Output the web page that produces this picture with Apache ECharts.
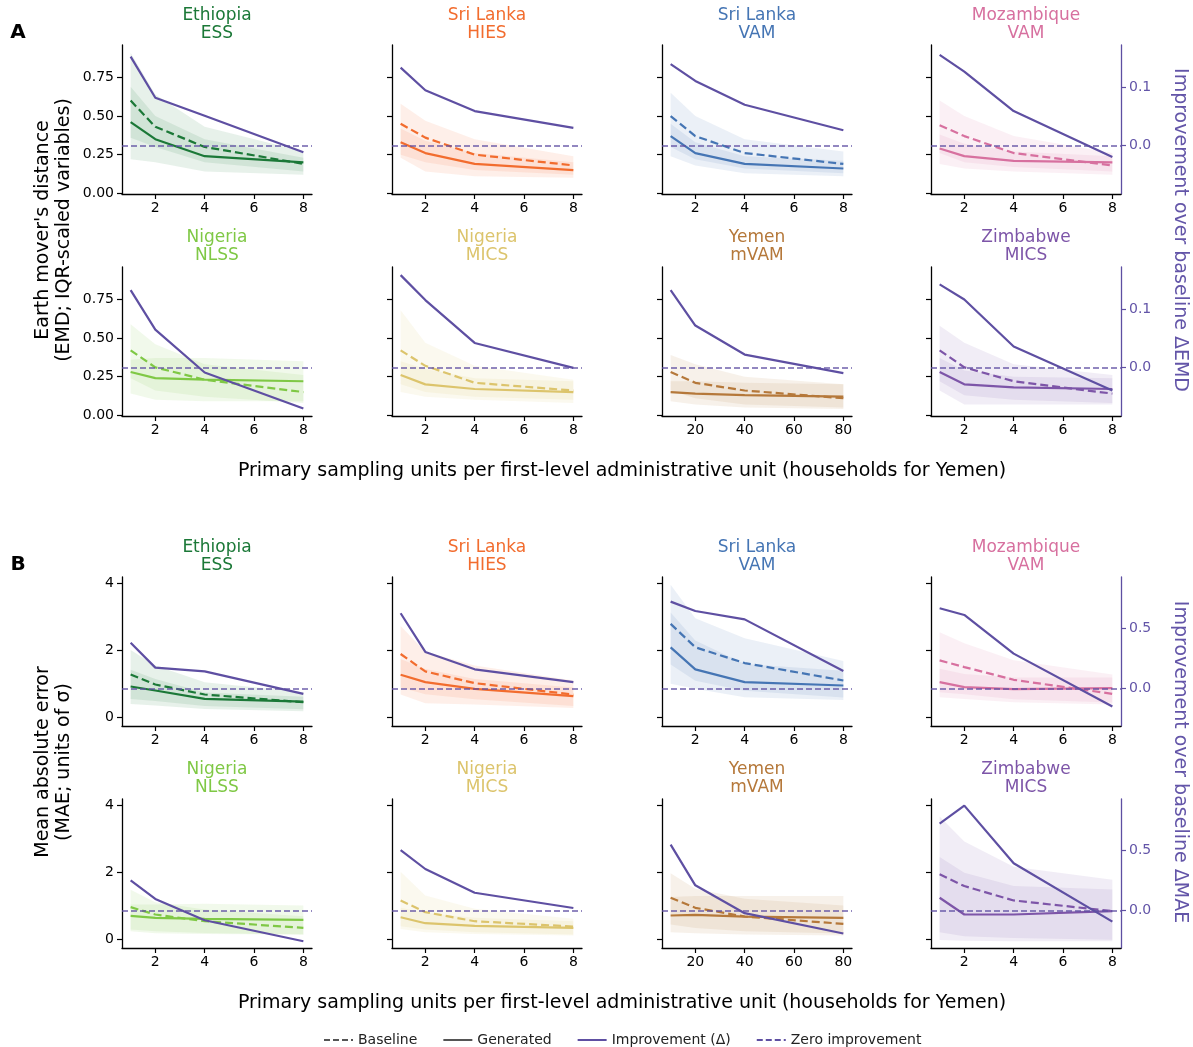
<!DOCTYPE html>
<html><head><meta charset="utf-8">
<script src="https://cdn.jsdelivr.net/npm/echarts@6/dist/echarts.min.js"></script>
<style>html,body{margin:0;padding:0;background:#fff}#c{width:1193px;height:1047px}</style>
</head><body><div id="c"></div>
<script>
// ---------- DATA ----------
const panelCountries = ['Ethiopia','Sri Lanka','Sri Lanka','Mozambique','Nigeria','Nigeria','Yemen','Zimbabwe'];
const panelSurveys   = ['ESS','HIES','VAM','VAM','NLSS','MICS','mVAM','MICS'];
const xSteps      = [1, 2, 4, 8];
const xStepsYemen = [10, 20, 40, 80];
const xTicks      = [2, 4, 6, 8];
const xTicksYemen = [20, 40, 60, 80];
const emdTicks    = [0, 0.25, 0.5, 0.75];
const emdImpTicks = [0, 0.1];
const maeTicks    = [0, 2, 4];
const maeImpTicks = [0, 0.5];

// Panel A: Earth mover's distance
const emdBaseline = [
  [0.60,0.43,0.30,0.19],[0.45,0.36,0.25,0.18],[0.50,0.37,0.26,0.19],[0.44,0.37,0.26,0.18],
  [0.42,0.31,0.23,0.15],[0.42,0.32,0.21,0.16],[0.28,0.21,0.16,0.11],[0.42,0.31,0.22,0.14]];
const emdGenerated = [
  [0.46,0.35,0.24,0.20],[0.33,0.26,0.19,0.15],[0.37,0.26,0.19,0.16],[0.29,0.24,0.21,0.20],
  [0.28,0.24,0.23,0.22],[0.26,0.20,0.17,0.15],[0.15,0.14,0.13,0.12],[0.28,0.20,0.18,0.17]];
const emdImprovement = [
  [0.153,0.082,0.051,-0.012],[0.134,0.095,0.059,0.030],[0.140,0.111,0.070,0.026],[0.156,0.127,0.059,-0.020],
  [0.133,0.065,-0.009,-0.071],[0.159,0.116,0.042,-0.001],[0.133,0.072,0.022,-0.010],[0.143,0.117,0.036,-0.040]];
const emdBaseHi = [
  [0.91,0.64,0.43,0.27],[0.58,0.47,0.35,0.24],[0.65,0.50,0.35,0.27],[0.60,0.50,0.37,0.26],
  [0.59,0.46,0.33,0.26],[0.68,0.47,0.32,0.23],[0.39,0.33,0.25,0.20],[0.58,0.47,0.33,0.26]];
const emdBaseLo = [
  [0.36,0.30,0.20,0.14],[0.25,0.20,0.15,0.12],[0.30,0.22,0.16,0.13],[0.26,0.20,0.17,0.14],
  [0.24,0.16,0.12,0.08],[0.20,0.15,0.12,0.10],[0.16,0.11,0.07,0.05],[0.22,0.13,0.10,0.08]];
const emdGenHi = [
  [0.69,0.50,0.35,0.23],[0.42,0.34,0.26,0.20],[0.45,0.33,0.24,0.21],[0.38,0.32,0.27,0.24],
  [0.36,0.37,0.37,0.35],[0.35,0.30,0.24,0.22],[0.22,0.22,0.21,0.20],[0.37,0.29,0.25,0.24]];
const emdGenLo = [
  [0.22,0.20,0.14,0.12],[0.23,0.14,0.11,0.10],[0.24,0.18,0.13,0.11],[0.19,0.16,0.14,0.12],
  [0.14,0.10,0.09,0.09],[0.15,0.12,0.10,0.08],[0.09,0.07,0.05,0.04],[0.16,0.07,0.07,0.07]];

// Panel B: Mean absolute error
const maeBaseline = [
  [1.29,0.99,0.69,0.46],[1.90,1.38,1.03,0.69],[2.80,2.10,1.63,1.11],[1.71,1.51,1.13,0.71],
  [0.97,0.75,0.55,0.35],[1.17,0.82,0.55,0.39],[1.25,0.95,0.69,0.47],[1.95,1.60,1.17,0.85]];
const maeGenerated = [
  [0.93,0.81,0.56,0.48],[1.28,1.06,0.86,0.64],[2.10,1.44,1.06,0.96],[1.06,0.91,0.85,0.88],
  [0.71,0.65,0.62,0.59],[0.67,0.49,0.41,0.35],[0.72,0.74,0.69,0.65],[1.25,0.75,0.75,0.85]];
const maeImprovement = [
  [0.380,0.173,0.142,-0.045],[0.626,0.304,0.159,0.053],[0.723,0.645,0.575,0.145],[0.668,0.612,0.290,-0.151],
  [0.251,0.096,-0.082,-0.257],[0.503,0.345,0.147,0.020],[0.548,0.209,-0.023,-0.192],[0.723,0.873,0.393,-0.093]];
const maeBaseHi = [
  [2.02,1.56,1.06,0.76],[2.74,1.97,1.56,1.11],[3.97,2.97,2.37,1.69],[2.55,2.22,1.71,1.29],
  [1.49,1.12,0.90,0.70],[2.03,1.32,0.92,0.62],[1.98,1.52,1.22,1.02],[3.68,2.93,2.18,1.79]];
const maeBaseLo = [
  [0.56,0.50,0.35,0.25],[0.90,0.70,0.55,0.35],[1.59,1.10,0.80,0.60],[0.76,0.70,0.55,0.45],
  [0.30,0.25,0.20,0.15],[0.40,0.30,0.22,0.15],[0.45,0.35,0.25,0.18],[0.22,0.10,0.05,0.00]];
const maeGenHi = [
  [1.43,1.15,0.75,0.62],[1.75,1.45,1.15,0.90],[3.14,2.30,1.60,1.40],[1.46,1.30,1.20,1.20],
  [1.05,1.05,1.07,1.02],[0.95,0.80,0.65,0.55],[1.27,1.30,1.30,1.30],[2.47,2.00,1.60,1.50]];
const maeGenLo = [
  [0.41,0.36,0.26,0.19],[0.69,0.43,0.39,0.29],[1.01,0.86,0.61,0.53],[0.61,0.56,0.46,0.39],
  [0.25,0.19,0.17,0.15],[0.32,0.22,0.17,0.12],[0.22,0.19,0.15,0.12],[-0.01,-0.03,-0.05,-0.05]];

// ---------- STYLE / LAYOUT ----------
const FONT = 'DejaVu Sans';
const IMP = '#5e4fa2';
const IMP_TEXT = '#6355a8';
const panelColors = ['#1b7837','#f26c2e','#4575b4','#d7709f','#7fc845','#dcc46c','#b5783a','#7d55a8'];
const colLeft = [122, 392, 662, 931];
const panelW = 190, panelH = 149;

function rgba(hex, a) {
  const n = parseInt(hex.slice(1), 16);
  return 'rgba(' + ((n >> 16) & 255) + ',' + ((n >> 8) & 255) + ',' + (n & 255) + ',' + a + ')';
}

const grids = [], xAxes = [], yAxes = [], series = [], graphics = [];

const sections = [
  { rowTop: [45, 267], yMin: -0.005, yMax: 0.96, impMin: -0.084, impMax: 0.173,
    ticks: emdTicks, impTicks: emdImpTicks, fmt: v => v.toFixed(2), impFmt: v => v.toFixed(1),
    base: emdBaseline, gen: emdGenerated, imp: emdImprovement,
    bHi: emdBaseHi, bLo: emdBaseLo, gHi: emdGenHi, gLo: emdGenLo },
  { rowTop: [577, 799], yMin: -0.25, yMax: 4.2, impMin: -0.313, impMax: 0.928,
    ticks: maeTicks, impTicks: maeImpTicks, fmt: v => String(Math.round(v)), impFmt: v => v.toFixed(1),
    base: maeBaseline, gen: maeGenerated, imp: maeImprovement,
    bHi: maeBaseHi, bLo: maeBaseLo, gHi: maeGenHi, gLo: maeGenLo }
];

sections.forEach((S) => {
  for (let p = 0; p < 8; p++) {
    const row = Math.floor(p / 4), col = p % 4;
    const g = grids.length;
    const left = colLeft[col], top = S.rowTop[row];
    const color = panelColors[p];
    const isYemen = p === 6;
    const xs = isYemen ? xStepsYemen : xSteps;
    grids.push({ left: left, top: top, width: panelW, height: panelH, containLabel: false });
    xAxes.push({
      gridIndex: g, type: 'value',
      min: isYemen ? 6.5 : 0.65, max: isYemen ? 83.5 : 8.35,
      axisLine: { show: true, onZero: false, lineStyle: { color: '#000', width: 1.3 } },
      axisTick: { show: true, length: 5, lineStyle: { color: '#000', width: 1.2 }, customValues: isYemen ? xTicksYemen : xTicks },
      axisLabel: { color: '#000', fontSize: 14, fontFamily: FONT, margin: 7, customValues: isYemen ? xTicksYemen : xTicks },
      splitLine: { show: false }
    });
    yAxes.push({
      gridIndex: g, type: 'value', position: 'left', min: S.yMin, max: S.yMax,
      axisLine: { show: true, onZero: false, lineStyle: { color: '#000', width: 1.3 } },
      axisTick: { show: true, length: 5, lineStyle: { color: '#000', width: 1.2 }, customValues: S.ticks },
      axisLabel: { show: col === 0, color: '#000', fontSize: 14, fontFamily: FONT, margin: 8, customValues: S.ticks, formatter: S.fmt },
      splitLine: { show: false }
    });
    yAxes.push({
      gridIndex: g, type: 'value', position: 'right', min: S.impMin, max: S.impMax, show: col === 3,
      axisLine: { show: true, onZero: false, lineStyle: { color: IMP, width: 1.3 } },
      axisTick: { show: true, length: 5, lineStyle: { color: IMP, width: 1.2 }, customValues: S.impTicks },
      axisLabel: { color: IMP_TEXT, fontSize: 14, fontFamily: FONT, margin: 8, customValues: S.impTicks, formatter: S.impFmt },
      splitLine: { show: false }
    });
    const yL = 2 * g, yR = 2 * g + 1;
    // bands (baseline band, generated band) drawn through the axis scales
    [[S.bLo[p], S.bHi[p]], [S.gLo[p], S.gHi[p]]].forEach((band) => {
      const bandData = xs.map((x, i) => [x, band[0][i], band[1][i]]);
      const fill = rgba(color, 0.105);
      series.push({ type: 'custom', xAxisIndex: g, yAxisIndex: yL, silent: true, z: 1, clip: true,
        encode: { x: 0, y: [1, 2] }, data: bandData,
        renderItem: function (params, api) {
          if (params.dataIndex !== 0) return null;
          const upper = bandData.map(d => api.coord([d[0], d[2]]));
          const lower = bandData.map(d => api.coord([d[0], d[1]])).reverse();
          return { type: 'polygon', shape: { points: upper.concat(lower) }, style: { fill: fill }, silent: true };
        } });
    });
    series.push({ type: 'line', xAxisIndex: g, yAxisIndex: yL, data: xs.map((x, i) => [x, S.base[p][i]]),
      symbol: 'none', silent: true, lineStyle: { color: color, width: 2.2, type: [8, 4] }, z: 3 });
    series.push({ type: 'line', xAxisIndex: g, yAxisIndex: yL, data: xs.map((x, i) => [x, S.gen[p][i]]),
      symbol: 'none', silent: true, lineStyle: { color: color, width: 2.2 }, z: 3 });
    series.push({ type: 'line', xAxisIndex: g, yAxisIndex: yR, data: xs.map((x, i) => [x, S.imp[p][i]]),
      symbol: 'none', silent: true, lineStyle: { color: IMP, width: 2.2 }, z: 4,
      markLine: { silent: true, symbol: 'none', label: { show: false },
        lineStyle: { color: IMP, width: 1.6, type: [6, 3], opacity: 0.9 }, data: [{ yAxis: 0 }] } });
    // titles
    const cx = left + panelW / 2;
    graphics.push({ type: 'text', x: cx, y: top - 29, silent: true,
      style: { text: panelCountries[p], fill: color, fontSize: 17, fontFamily: FONT, align: 'center', verticalAlign: 'middle' } });
    graphics.push({ type: 'text', x: cx, y: top - 11, silent: true,
      style: { text: panelSurveys[p], fill: color, fontSize: 17, fontFamily: FONT, align: 'center', verticalAlign: 'middle' } });
  }
});

// legend helper series
const legendSeries = [
  { name: 'Baseline', color: '#555', type: [6, 3], width: 1.6 },
  { name: 'Generated', color: '#555', type: 'solid', width: 1.6 },
  { name: 'Improvement (Δ)', color: IMP, type: 'solid', width: 1.6 },
  { name: 'Zero improvement', color: IMP, type: [6, 3], width: 1.6 }
];
legendSeries.forEach(l => series.push({ name: l.name, type: 'line', xAxisIndex: 0, yAxisIndex: 0, data: [],
  symbol: 'none', color: l.color, lineStyle: { color: l.color, type: l.type, width: l.width } }));

const textCommon = { fontFamily: FONT, fill: '#000', align: 'center', verticalAlign: 'middle' };
const xLabel = 'Primary sampling units per first-level administrative unit (households for Yemen)';
graphics.push(
  { type: 'text', x: 18, y: 33, style: Object.assign({}, textCommon, { text: 'A', fontSize: 20, fontWeight: 'bold' }) },
  { type: 'text', x: 18, y: 565, style: Object.assign({}, textCommon, { text: 'B', fontSize: 20, fontWeight: 'bold' }) },
  { type: 'text', x: 622, y: 471, style: Object.assign({}, textCommon, { text: xLabel, fontSize: 19 }) },
  { type: 'text', x: 622, y: 1003, style: Object.assign({}, textCommon, { text: xLabel, fontSize: 19 }) },
  { type: 'text', x: 43, y: 230, rotation: Math.PI / 2, style: Object.assign({}, textCommon, { text: "Earth mover's distance", fontSize: 19 }) },
  { type: 'text', x: 64, y: 230, rotation: Math.PI / 2, style: Object.assign({}, textCommon, { text: '(EMD; IQR-scaled variables)', fontSize: 19 }) },
  { type: 'text', x: 43, y: 762, rotation: Math.PI / 2, style: Object.assign({}, textCommon, { text: 'Mean absolute error', fontSize: 19 }) },
  { type: 'text', x: 64, y: 762, rotation: Math.PI / 2, style: Object.assign({}, textCommon, { text: '(MAE; units of σ)', fontSize: 19 }) },
  { type: 'text', x: 1180, y: 230, rotation: -Math.PI / 2, style: Object.assign({}, textCommon, { text: 'Improvement over baseline ΔEMD', fontSize: 19, fill: IMP_TEXT }) },
  { type: 'text', x: 1180, y: 762, rotation: -Math.PI / 2, style: Object.assign({}, textCommon, { text: 'Improvement over baseline ΔMAE', fontSize: 19, fill: IMP_TEXT }) }
);

const chart = echarts.init(document.getElementById('c'), null, { renderer: 'canvas' });
chart.setOption({
  backgroundColor: '#fff',
  animation: false,
  textStyle: { fontFamily: FONT },
  grid: grids, xAxis: xAxes, yAxis: yAxes, series: series,
  legend: { left: 318, top: 1028, itemWidth: 29, itemHeight: 14, itemGap: 25, selectedMode: false,
    itemStyle: { opacity: 0 },
    textStyle: { fontSize: 14, fontFamily: FONT, color: '#222' },
    data: legendSeries.map(l => l.name) },
  graphic: graphics
});
</script></body></html>
